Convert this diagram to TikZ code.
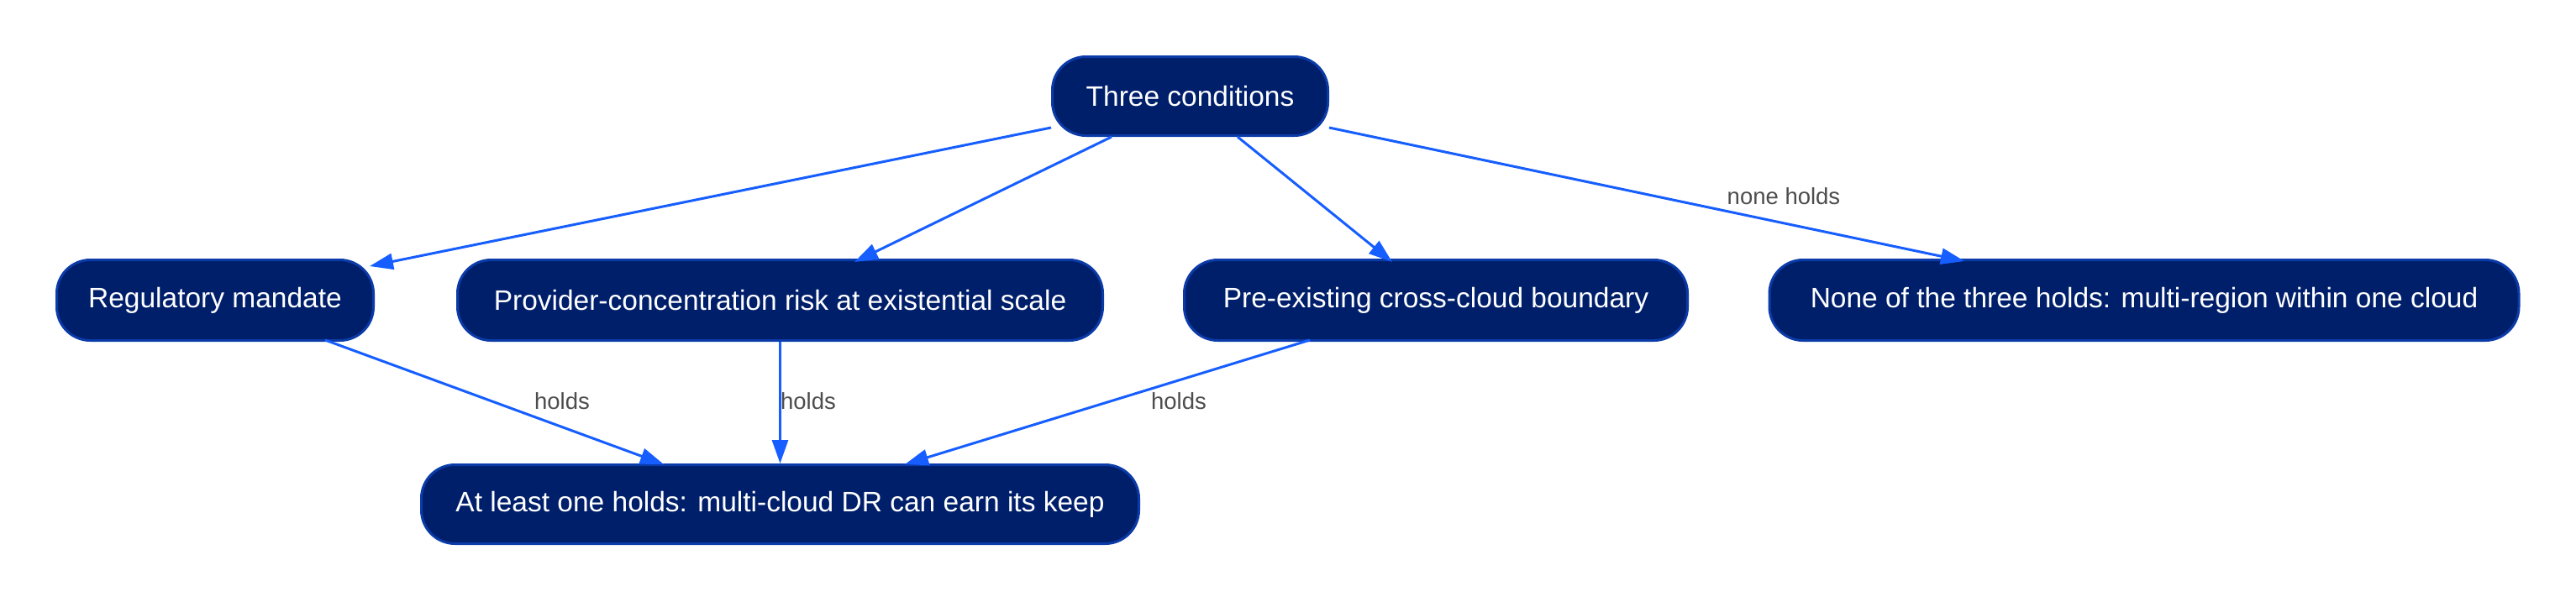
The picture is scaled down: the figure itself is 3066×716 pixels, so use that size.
\documentclass[tikz,border=0pt]{standalone}
\usepackage{fontspec}
\setmainfont{Liberation Sans}
\usetikzlibrary{arrows.meta,calc}
\definecolor{nodefill}{HTML}{001F6B}
\definecolor{nodeline}{HTML}{0B3BA8}
\definecolor{edgeblue}{HTML}{165EFF}
\definecolor{labelgray}{HTML}{4D4D4D}
\begin{document}
\begin{tikzpicture}[x=1pt,y=-1pt,
  box/.style={draw=nodeline, line width=3pt, fill=nodefill, rounded corners=40pt,
    text=white, font=\fontsize{33.5}{40}\selectfont, minimum height=96pt, inner sep=0pt},
  link/.style={draw=edgeblue, line width=3pt, -{Triangle[length=28pt,width=19pt]}},
  tag/.style={text=labelgray, font=\fontsize{27.5}{32}\selectfont, inner sep=0pt}]
  \fill[white] (0,0) rectangle (3066,716);
  \useasboundingbox (0,0) rectangle (3066,716);

  % decision root and the three conditions
  \node[box, minimum width=328pt, minimum height=94pt] (top) at (1416.5,114.5) {Three conditions};
  \node[box, minimum width=377pt] (reg) at (256,357.5) {Regulatory mandate};
  \node[box, minimum width=768pt] (prov) at (928.5,357.5) {Provider-concentration risk at existential scale};
  \node[box, minimum width=599pt] (pre) at (1709,357.5) {Pre-existing cross-cloud boundary};
  \node[box, minimum width=892pt] (none) at (2552,357.5) {None of the three holds: multi-region within one cloud};
  \node[box, minimum width=854pt, minimum height=94pt] (least) at (928.5,600.5) {At least one holds: multi-cloud DR can earn its keep};

  % edges out of the root
  \draw[link] ($(top.center)+(-165.5,37.5)$) -- ($(reg.center)+(184,-40.5)$);
  \draw[link] ($(top.center)+(-93.5,48.5)$) -- ($(prov.center)+(88.5,-45.5)$);
  \draw[link] ($(top.center)+(56.5,48.5)$) -- ($(pre.center)+(-52,-45.5)$);
  \draw[link] ($(top.center)+(165.5,37.5)$) -- ($(none.center)+(-214,-46.5)$);

  % edges into the outcome
  \draw[link] ($(reg.center)+(131,47.5)$) -- ($(least.center)+(-138.5,-47.5)$);
  \draw[link] (prov.south) -- (least.north);
  \draw[link] ($(pre.center)+(-150,47.5)$) -- ($(least.center)+(148.5,-47.5)$);

  % edge labels
  \node[tag] (lnone) at (2123,234) {none holds};
  \node[tag] (lreg) at (669,478) {holds};
  \node[tag] (lprov) at (962,478) {holds};
  \node[tag] (lpre) at (1403,478) {holds};
\end{tikzpicture}
\end{document}
